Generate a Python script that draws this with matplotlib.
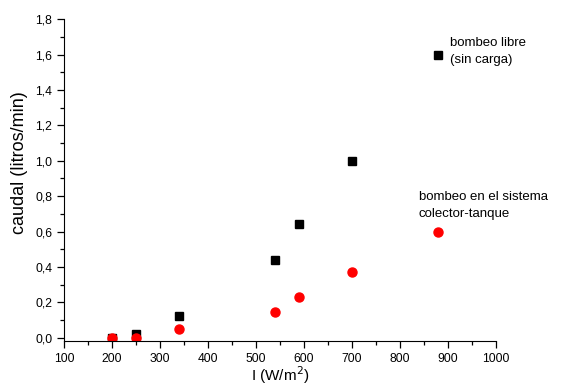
import matplotlib
matplotlib.use("Agg")
import matplotlib.pyplot as plt
from matplotlib.ticker import MultipleLocator, FuncFormatter

plt.rcParams['font.family'] = ['Liberation Sans', 'DejaVu Sans']

irr = [200, 250, 340, 540, 590, 700, 880]
libre = [0.0, 0.02, 0.125, 0.44, 0.64, 1.0, 1.6]
sistema = [0.0, 0.0, 0.047, 0.145, 0.23, 0.37, 0.60]

fig = plt.figure(figsize=(5.7, 3.91), dpi=100)
ax = fig.add_axes([0.1123, 0.128, 0.758, 0.823])
ax.plot(irr, libre, 's', color='black', markersize=5.8, linestyle='none')
ax.plot(irr, sistema, 'o', color='#ff0000', markersize=6.5, linestyle='none')

ax.set_xlim(100, 1000)
ax.set_ylim(-0.018, 1.8)
ax.spines['top'].set_visible(False)
ax.spines['right'].set_visible(False)
ax.xaxis.set_major_locator(MultipleLocator(100))
ax.xaxis.set_minor_locator(MultipleLocator(50))
ax.yaxis.set_major_locator(MultipleLocator(0.2))
ax.yaxis.set_minor_locator(MultipleLocator(0.1))
ax.yaxis.set_major_formatter(FuncFormatter(lambda v, p: f"{v:.1f}".replace('.', ',')))
ax.tick_params(which='major', direction='out', length=5, width=0.9, labelsize=8.7)
ax.tick_params(which='minor', direction='out', length=3, width=0.9)
ax.set_ylim(-0.018, 1.8)

ax.set_xlabel('I (W/m$^2$)', fontsize=11)
ax.xaxis.set_label_coords(0.5, -0.074)
ax.set_ylabel('caudal (litros/min)', fontsize=13)
ax.yaxis.set_label_coords(-0.083, 0.553)

ax.text(904, 1.70, 'bombeo libre\n(sin carga)', fontsize=9.5, va='top', ha='left', linespacing=1.6)
ax.text(839, 0.83, 'bombeo en el sistema\ncolector-tanque', fontsize=9.5, va='top', ha='left', linespacing=1.6)

fig.savefig('out.png', dpi=100)
